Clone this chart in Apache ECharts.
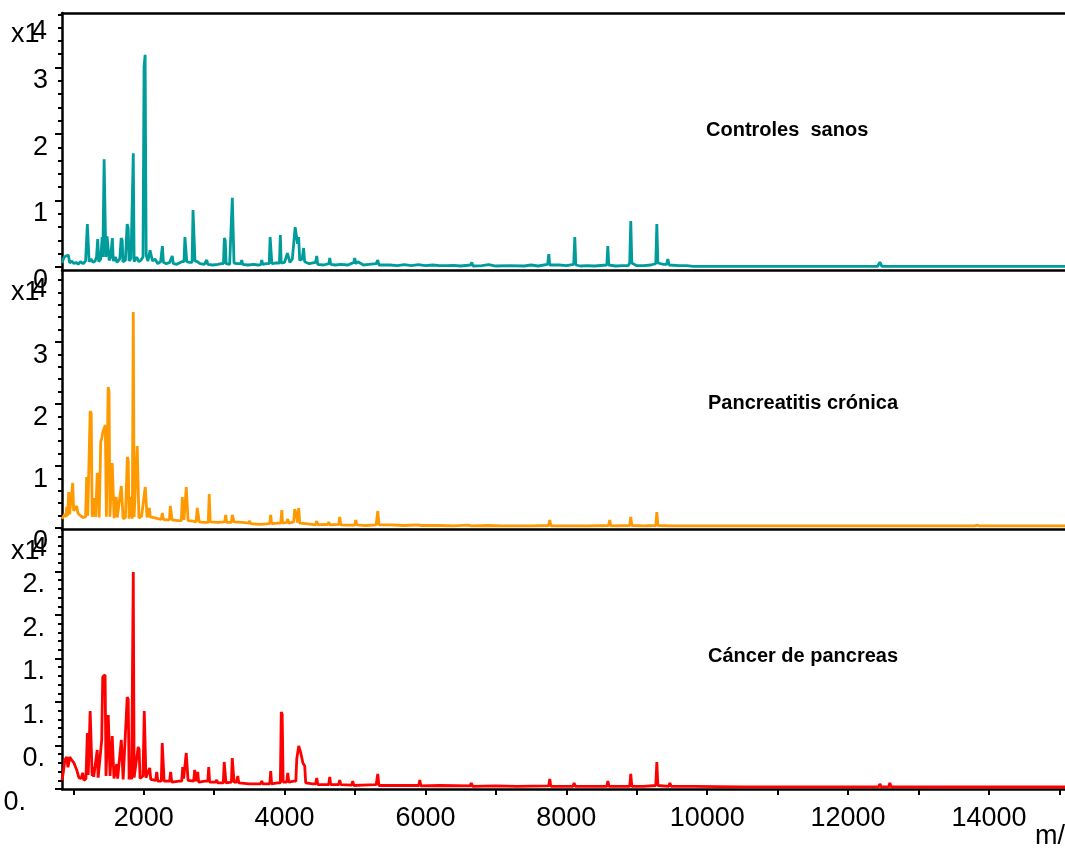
<!DOCTYPE html>
<html>
<head>
<meta charset="utf-8">
<script src="https://cdn.jsdelivr.net/npm/echarts@6/dist/echarts.min.js"></script>
<style>
  html, body { margin: 0; padding: 0; background: #fff; }
  #chart { width: 1065px; height: 849px; }
</style>
</head>
<body>
<div id="chart"></div>
<script>
// spectra: [m/z, intensity]
var controles = [
  [840, 600], [870, 1500], [890, 1800], [930, 1800], [950, 600], [980, 900], [1010, 500], [1040, 700],
  [1070, 400], [1100, 800], [1140, 500], [1175, 900], [1190, 600], [1200, 6450], [1212, 6300], [1225, 800],
  [1250, 1200], [1280, 700], [1310, 900], [1330, 1500], [1347, 4200], [1362, 800], [1390, 1200], [1410, 4500],
  [1420, 1500], [1438, 16200], [1452, 16000], [1462, 1500], [1480, 4600], [1500, 4800], [1510, 1000],
  [1530, 1500], [1555, 4350], [1568, 900], [1600, 1500], [1620, 700], [1660, 1200], [1680, 4350], [1695, 4000],
  [1705, 800], [1740, 1000], [1765, 6450], [1780, 5800], [1792, 900], [1820, 1300], [1852, 17100], [1864, 800],
  [1900, 1500], [1930, 800], [1960, 1000], [1990, 1500], [2005, 30100], [2020, 31900], [2035, 1800], [2060, 900],
  [2090, 2500], [2114, 2700], [2125, 900], [2160, 1200], [2200, 500], [2240, 800], [2265, 3150], [2280, 700],
  [2320, 500], [2370, 700], [2392, 600], [2405, 1650], [2420, 500], [2470, 400], [2540, 800], [2572, 800],
  [2585, 4500], [2600, 4800], [2612, 800], [2650, 700], [2687, 700], [2700, 8550], [2715, 8400], [2728, 900],
  [2760, 800], [2800, 500], [2860, 400], [2895, 1050], [2910, 400], [2980, 300], [3050, 400], [3100, 500],
  [3132, 500], [3145, 4350], [3158, 4000], [3170, 500], [3220, 400], [3245, 400], [3258, 10400], [3270, 10200],
  [3282, 600], [3330, 500], [3378, 500], [3392, 1050], [3405, 400], [3480, 300], [3560, 400], [3620, 300],
  [3662, 350], [3676, 1050], [3690, 400], [3740, 500], [3782, 500], [3795, 4500], [3808, 4400], [3820, 500],
  [3870, 600], [3927, 600], [3940, 4800], [3952, 600], [4000, 700], [4027, 700], [4040, 2100], [4060, 2000],
  [4075, 700], [4110, 1200], [4137, 1200], [4150, 6000], [4170, 5700], [4185, 3500], [4200, 4500], [4215, 1000],
  [4250, 1200], [4270, 2850], [4285, 800], [4350, 500], [4440, 700], [4457, 1650], [4470, 400], [4550, 300],
  [4630, 500], [4641, 1350], [4655, 400], [4720, 300], [4800, 400], [4900, 300], [4985, 700], [4996, 1350],
  [5010, 500], [5040, 800], [5055, 500], [5120, 300], [5200, 400], [5300, 500], [5323, 1050], [5340, 300],
  [5500, 300], [5600, 200], [5700, 350], [5800, 200], [5900, 350], [6000, 200], [6100, 300], [6200, 200],
  [6300, 200], [6400, 250], [6500, 150], [6640, 300], [6658, 700], [6675, 150], [6800, 200], [6900, 350],
  [7000, 150], [7200, 200], [7400, 150], [7500, 300], [7600, 150], [7735, 400], [7751, 1950], [7765, 300],
  [7900, 300], [7920, 150], [8000, 200], [8105, 400], [8120, 4500], [8135, 300], [8200, 150], [8300, 200],
  [8400, 150], [8575, 300], [8589, 3150], [8603, 300], [8700, 150], [8800, 200], [8880, 200], [8900, 600],
  [8915, 6900], [8930, 600], [9000, 200], [9100, 200], [9200, 300], [9270, 500], [9285, 6450], [9300, 600],
  [9380, 400], [9425, 400], [9441, 1200], [9460, 300], [9600, 200], [9710, 200], [9725, 350], [9800, 100],
  [10500, 100], [11000, 80], [11500, 100], [12000, 80], [12420, 100], [12451, 750], [12480, 100], [12575, 100],
  [12593, 400], [12620, 100], [13000, 80], [13820, 80], [13843, 300], [13870, 80], [14500, 80], [15100, 80]
];

var pancreatitis = [
  [840, 1500], [880, 2200], [900, 1800], [907, 3400], [920, 2000], [935, 5800], [948, 2200], [970, 2500],
  [992, 7260], [1005, 2800], [1030, 2600], [1049, 3550], [1065, 2400], [1100, 2000], [1140, 1700], [1175, 1800],
  [1190, 8230], [1205, 2000], [1240, 18870], [1255, 18500], [1268, 1800], [1290, 2500], [1304, 4840], [1318, 1800],
  [1340, 8870], [1355, 8500], [1368, 1700], [1390, 14000], [1404, 14350], [1420, 15500], [1455, 16600], [1470, 1800],
  [1495, 22740], [1508, 22000], [1520, 1800], [1553, 10480], [1566, 10300], [1580, 1600], [1610, 5000], [1624, 1700],
  [1650, 1800], [1682, 6770], [1695, 6500], [1708, 1500], [1740, 1700], [1768, 11450], [1780, 11000], [1792, 1500],
  [1825, 5000], [1838, 1500], [1852, 34840], [1864, 1800], [1908, 13230], [1920, 13000], [1932, 1600], [1970, 1900],
  [2022, 6610], [2035, 6400], [2048, 1700], [2080, 3230], [2093, 1800], [2130, 1700], [2200, 1500], [2250, 1400],
  [2265, 2420], [2278, 1400], [2330, 1300], [2365, 1300], [2378, 3550], [2390, 3300], [2402, 1300], [2480, 1200],
  [2535, 1200], [2548, 5000], [2560, 4800], [2572, 1300], [2604, 6610], [2617, 6400], [2630, 1200], [2700, 1100],
  [2745, 1000], [2760, 3230], [2774, 3100], [2788, 1000], [2850, 900], [2917, 900], [2930, 5480], [2944, 1000],
  [3050, 900], [3150, 1000], [3164, 2100], [3178, 900], [3244, 900], [3257, 2100], [3270, 1900], [3283, 1000],
  [3400, 900], [3490, 800], [3505, 1130], [3520, 700], [3650, 600], [3790, 700], [3803, 2100], [3816, 700],
  [3900, 800], [3947, 800], [3960, 2900], [3972, 800], [4030, 900], [4045, 1450], [4060, 800], [4130, 1000],
  [4144, 3060], [4170, 2000], [4185, 900], [4201, 3230], [4215, 800], [4300, 700], [4440, 500], [4457, 1130],
  [4472, 500], [4550, 600], [4612, 550], [4627, 970], [4640, 500], [4770, 600], [4783, 1770], [4798, 500],
  [4900, 450], [4995, 450], [5010, 1290], [5025, 500], [5150, 400], [5300, 500], [5308, 500], [5323, 2740],
  [5340, 500], [5500, 500], [5700, 400], [5900, 500], [5920, 800], [5940, 400], [6200, 400], [6400, 350],
  [6600, 450], [6650, 350], [6900, 400], [7100, 350], [7300, 350], [7500, 350], [7750, 400], [7765, 1290],
  [7780, 350], [8000, 350], [8300, 350], [8600, 400], [8617, 1290], [8630, 350], [8900, 400], [8915, 1770],
  [8930, 400], [9100, 350], [9270, 400], [9285, 2580], [9300, 400], [9500, 350], [9710, 350], [9725, 600],
  [9750, 350], [10500, 350], [11500, 330], [12580, 330], [12593, 550], [12610, 330], [13800, 330], [13840, 450],
  [13870, 330], [15100, 330]
];

var cancer = [
  [840, 1000], [860, 2000], [880, 3300], [907, 3680], [925, 2500], [950, 3680], [970, 3400], [992, 3335],
  [1010, 3000], [1049, 2185], [1080, 1300], [1110, 1200], [1134, 1840], [1150, 1000], [1180, 1200], [1200, 6440],
  [1212, 1600], [1240, 8970], [1255, 8800], [1268, 1500], [1276, 2530], [1290, 1400], [1340, 4485], [1353, 1300],
  [1404, 5635], [1418, 12880], [1452, 13110], [1465, 1500], [1497, 8510], [1510, 8300], [1522, 1500], [1553, 6095],
  [1566, 6000], [1578, 1200], [1617, 2875], [1630, 1200], [1682, 5635], [1695, 5500], [1708, 1100], [1766, 10580],
  [1780, 10300], [1793, 1100], [1815, 2415], [1828, 1100], [1852, 24955], [1864, 1300], [1922, 4830], [1935, 4600],
  [1948, 1200], [1990, 1500], [2008, 8970], [2020, 8800], [2032, 1300], [2085, 2415], [2100, 1100], [2170, 1000],
  [2185, 1955], [2200, 900], [2250, 900], [2263, 5290], [2277, 5100], [2290, 900], [2368, 900], [2383, 1955],
  [2398, 800], [2500, 900], [2540, 900], [2554, 2530], [2567, 1200], [2604, 4140], [2617, 4000], [2630, 1000],
  [2710, 900], [2724, 2185], [2738, 900], [2753, 900], [2767, 1955], [2780, 800], [2870, 900], [2910, 900],
  [2923, 2530], [2936, 800], [3022, 800], [3037, 1035], [3050, 700], [3130, 700], [3143, 3105], [3156, 3000],
  [3168, 700], [3245, 800], [3257, 3565], [3270, 3400], [3283, 800], [3320, 800], [3335, 1495], [3350, 700],
  [3500, 600], [3661, 600], [3676, 920], [3690, 600], [3790, 600], [3803, 2070], [3816, 600], [3900, 700],
  [3940, 700], [3953, 8855], [3966, 8600], [3980, 800], [4030, 800], [4045, 1840], [4060, 800], [4130, 900],
  [4160, 900], [4173, 3450], [4201, 4945], [4230, 4140], [4260, 3000], [4286, 2645], [4300, 700], [4400, 600],
  [4442, 600], [4457, 1265], [4472, 500], [4550, 500], [4626, 500], [4641, 1380], [4655, 500], [4768, 500],
  [4783, 1035], [4798, 500], [4953, 450], [4968, 920], [4983, 400], [5100, 450], [5300, 500], [5323, 1725],
  [5340, 400], [5600, 400], [5905, 400], [5920, 1035], [5935, 350], [6200, 400], [6635, 350], [6650, 700],
  [6670, 300], [7000, 350], [7300, 300], [7750, 350], [7765, 1150], [7780, 300], [8095, 300], [8110, 700],
  [8130, 300], [8400, 300], [8575, 300], [8590, 920], [8605, 300], [8800, 300], [8900, 300], [8915, 1725],
  [8930, 300], [9100, 300], [9270, 400], [9285, 3105], [9300, 400], [9455, 300], [9470, 700], [9490, 300],
  [9800, 300], [10500, 250], [11500, 250], [12436, 250], [12451, 580], [12470, 250], [12578, 250], [12593, 700],
  [12610, 250], [13500, 230], [15100, 230]
];

var panelNames = ['Controles  sanos', 'Pancreatitis crónica', 'Cáncer de pancreas'];
var panelColors = ['#009c9c', '#ff9900', '#ff0000'];

var mzTicks = [1000, 2000, 3000, 4000, 5000, 6000, 7000, 8000, 9000, 10000, 11000, 12000, 13000, 14000, 15000];
var mzLabels = [2000, 4000, 6000, 8000, 10000, 12000, 14000];

var yMajor = [
  [0, 10000, 20000, 30000],
  [0, 10000, 20000, 30000],
  [0, 5000, 10000, 15000, 20000, 25000]
];
var yMinor = [
  [0, 2000, 4000, 6000, 8000, 10000, 12000, 14000, 16000, 18000, 20000, 22000, 24000, 26000, 28000, 30000, 32000, 34000, 36000, 38000],
  [0, 2000, 4000, 6000, 8000, 10000, 12000, 14000, 16000, 18000, 20000, 22000, 24000, 26000, 28000, 30000, 32000, 34000, 36000, 38000, 40000],
  [0, 1000, 2000, 3000, 4000, 5000, 6000, 7000, 8000, 9000, 10000, 11000, 12000, 13000, 14000, 15000, 16000, 17000, 18000, 19000, 20000, 21000, 22000, 23000, 24000, 25000, 26000, 27000, 28000, 29000]
];
var yRange = [[-451, 38195], [-161, 41613], [0, 29885]];

var FONT = 'Liberation Sans';
var black = '#000';

var grids = [
  { left: 62, right: 0, top: 13, height: 257, outerBoundsMode: 'none' },
  { left: 62, right: 0, top: 270, height: 259, outerBoundsMode: 'none' },
  { left: 62, right: 0, top: 529, height: 260, outerBoundsMode: 'none' }
];

var xAxes = [];
var yAxes = [];
var series = [];
[controles, pancreatitis, cancer].forEach(function (spec, i) {
  var last = i === 2;
  xAxes.push({
    type: 'value', gridIndex: i, min: 840, max: 15080, position: 'bottom',
    axisLine: { show: true, onZero: false, lineStyle: { color: black, width: 2.5 } },
    axisTick: { show: last, customValues: mzTicks, length: 6, lineStyle: { color: black, width: 2 } },
    axisLabel: {
      show: last, customValues: mzLabels, fontSize: 27, fontFamily: FONT, color: black, margin: 16,
      formatter: function (v) { return String(v); }
    },
    splitLine: { show: false }
  });
  yAxes.push({
    type: 'value', gridIndex: i, position: 'left', min: yRange[i][0], max: yRange[i][1],
    axisLine: { show: true, onZero: false, lineStyle: { color: black, width: 2.5 } },
    axisTick: { show: true, customValues: yMajor[i], length: 7, lineStyle: { color: black, width: 2 } },
    axisLabel: {
      customValues: yMajor[i], fontSize: 27, fontFamily: FONT, color: black,
      margin: last ? 17 : 14, verticalAlign: 'top',
      formatter: function (v) {
        if (!last) return String(Math.round(v / 10000));
        var s = (v / 10000).toFixed(1).slice(0, 2);
        return v === 0 ? '{z|' + s + '}' : s;
      },
      rich: { z: { fontSize: 27, fontFamily: FONT, color: black, padding: [0, 19, 0, 0] } }
    },
    splitLine: { show: false }
  });
  yAxes.push({
    type: 'value', gridIndex: i, position: 'left', min: yRange[i][0], max: yRange[i][1],
    axisLine: { show: false },
    axisTick: { show: true, customValues: yMinor[i], length: 4, lineStyle: { color: black, width: 2 } },
    axisLabel: { show: false },
    splitLine: { show: false }
  });
  series.push({
    name: panelNames[i], type: 'line', xAxisIndex: i, yAxisIndex: i * 2,
    data: spec, showSymbol: false, symbol: 'none', sampling: null,
    lineStyle: { color: panelColors[i], width: 2.8 }, z: 1
  });
});

// top border of the first panel
xAxes.push({
  type: 'value', gridIndex: 0, min: 840, max: 15080, position: 'top',
  axisLine: { show: true, onZero: false, lineStyle: { color: black, width: 2.5 } },
  axisTick: { show: false }, axisLabel: { show: false }, splitLine: { show: false }
});

var titles = [
  { text: panelNames[0], left: 706, top: 120 },
  { text: panelNames[1], left: 708, top: 393 },
  { text: panelNames[2], left: 708, top: 646 }
].map(function (t) {
  t.padding = 0;
  t.textStyle = { fontFamily: FONT, fontWeight: 'bold', fontSize: 20, color: black };
  return t;
});
// exponent labels and axis name
[21, 279, 538].forEach(function (y) {
  titles.push({ text: 'x1', left: 11, top: y, padding: 0,
    textStyle: { fontFamily: FONT, fontWeight: 'normal', fontSize: 27, color: black } });
  titles.push({ text: '4', left: 32, top: y - 3, padding: 0,
    textStyle: { fontFamily: FONT, fontWeight: 'normal', fontSize: 27, color: black } });
});
titles.push({ text: 'm/z', left: 1035, top: 823, padding: 0,
  textStyle: { fontFamily: FONT, fontWeight: 'normal', fontSize: 27, color: black } });

var chart = echarts.init(document.getElementById('chart'));
chart.setOption({
  animation: false,
  backgroundColor: '#fff',
  title: titles,
  grid: grids,
  xAxis: xAxes,
  yAxis: yAxes,
  series: series
});
</script>
</body>
</html>
